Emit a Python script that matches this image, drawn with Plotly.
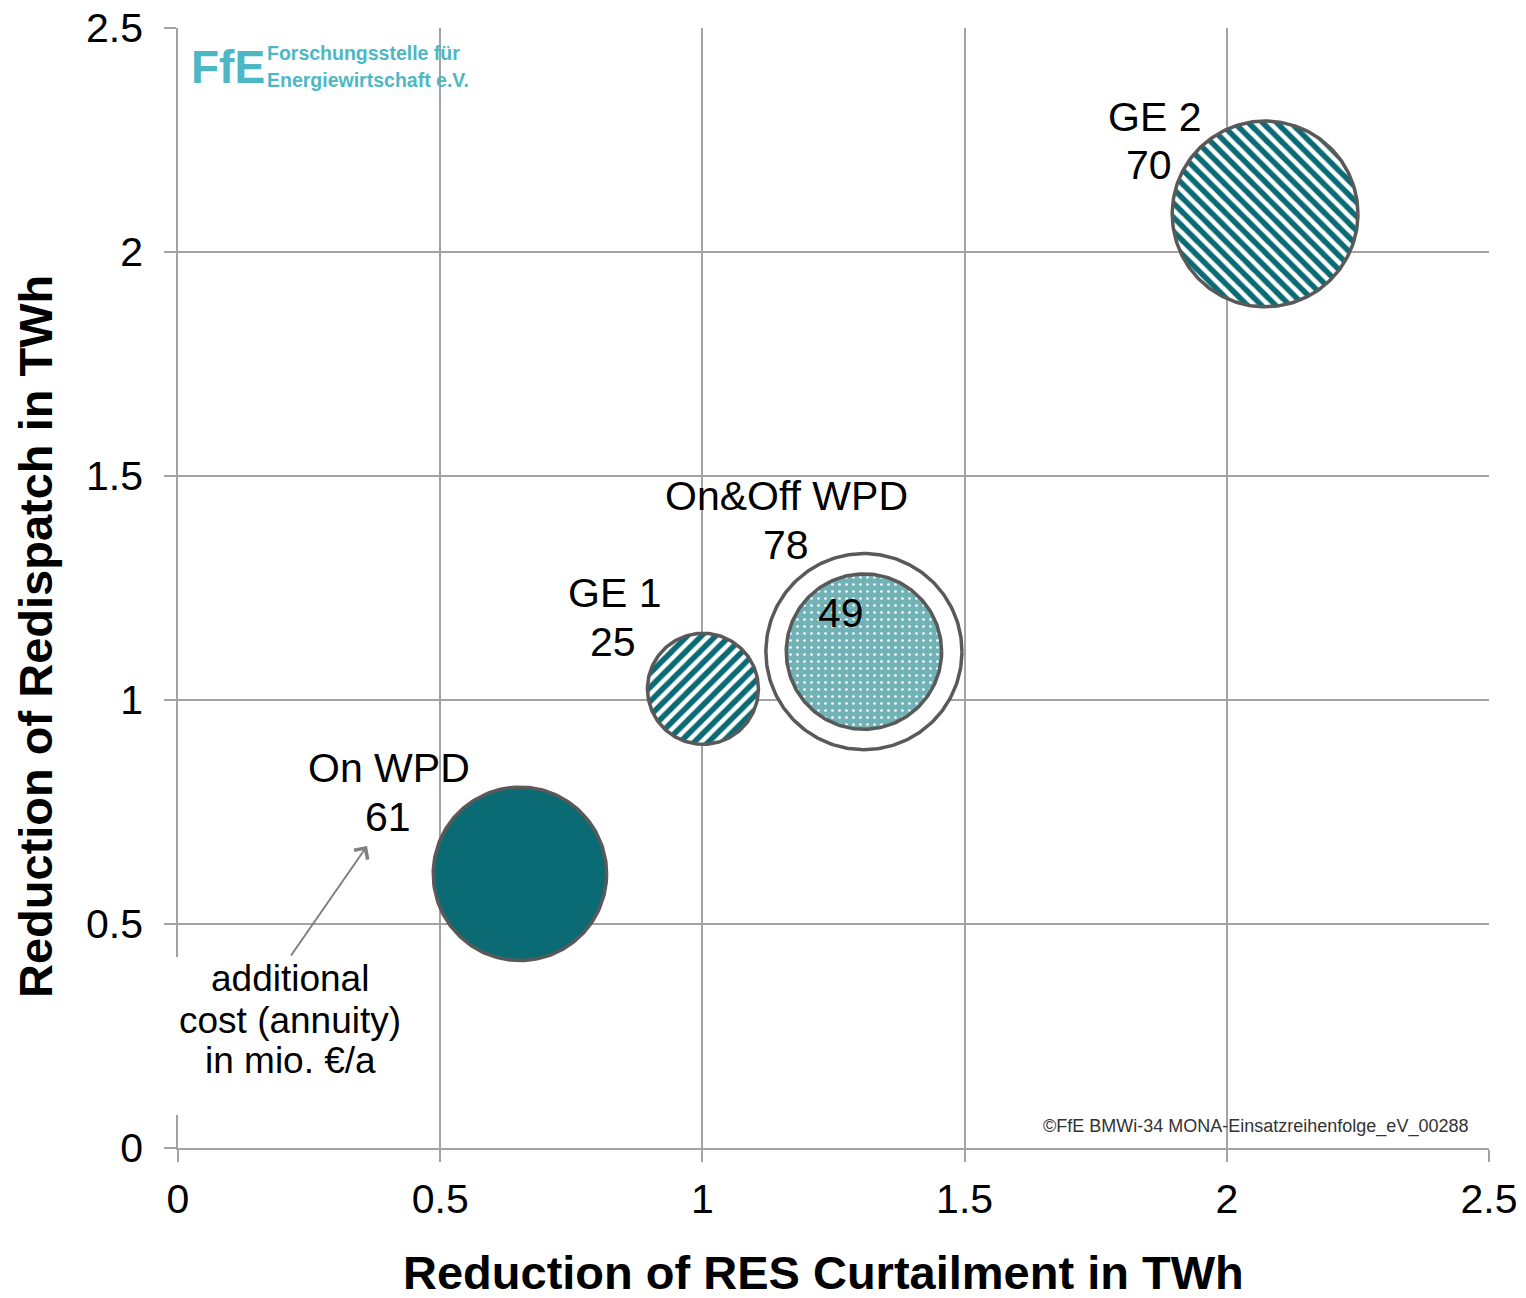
import numpy as np
import plotly.graph_objects as go

# ---- data ----
names = ["On WPD", "GE 1", "On&Off WPD", "On&Off WPD inner", "GE 2"]
res_curtailment = [0.652, 1.001, 1.308, 1.308, 2.073]   # x, TWh
redispatch = [0.612, 1.025, 1.108, 1.108, 2.085]        # y, TWh
cost = [61, 25, 78, 49, 70]                             # mio. €/a
label_names = ["On WPD", "GE 1", "On&Off WPD", "", "GE 2"]
tick_vals = [0, 0.5, 1, 1.5, 2, 2.5]
tick_text = ["0", "0.5", "1", "1.5", "2", "2.5"]

# ---- layout geometry (screen pixels; page body adds 8px offset) ----
W, H = 1526, 1298
OFF = 8
PL, PR, PT, PB = 178, 1489, 28, 1148          # plot area on screen
ML, MR, MT, MB = PL - OFF, W - (PR - OFF), PT - OFF, H - (PB - OFF)
PW, PH = PR - PL, PB - PT
XR, YR = 2.5, 2.5
pxx, pxy = PW / XR, PH / YR
K = 11.1  # radius px per sqrt(cost)


def px(sx):
    return (sx - PL) / PW


def py(sy):
    return (PB - sy) / PH


# label placement (screen px): name line, value line
name_pos = [(389, 768), (614, 593), (786, 496), None, (1154, 117)]
value_pos = [(388, 817), (613, 642), (786, 545), (841, 613), (1149, 165)]

TEAL = "#0B6B75"
EDGE = "#595959"
FONT = "Liberation Sans, Arial, sans-serif"

styles = [
    dict(fillcolor=TEAL, pattern=None),
    dict(fillcolor="white", pattern=dict(shape="/", fgcolor=TEAL, bgcolor="white", size=10,
                                         solidity=0.55, fgopacity=1)),
    dict(fillcolor="white", pattern=None),
    dict(fillcolor="#74B4B7", pattern=dict(shape=".", fgcolor="white", bgcolor="#70B2B5", size=7,
                                           solidity=0.12, fgopacity=1)),
    dict(fillcolor="white", pattern=dict(shape="\\", fgcolor=TEAL, bgcolor="white", size=10,
                                         solidity=0.55, fgopacity=1)),
]

fig = go.Figure()
t = np.linspace(0, 2 * np.pi, 241)
for i in range(len(names)):
    r = K * np.sqrt(cost[i])
    xs = res_curtailment[i] + r / pxx * np.cos(t)
    ys = redispatch[i] + r / pxy * np.sin(t)
    st = styles[i]
    kw = dict(x=xs, y=ys, mode="lines", fill="toself", fillcolor=st["fillcolor"],
              line=dict(color=EDGE, width=3.5), name=names[i], showlegend=False,
              hoverinfo="skip")
    if st["pattern"]:
        kw["fillpattern"] = st["pattern"]
    fig.add_trace(go.Scatter(**kw))

annotations = []
for i in range(len(names)):
    if name_pos[i] is not None:
        annotations.append(dict(x=px(name_pos[i][0]), y=py(name_pos[i][1]), xref="paper", yref="paper",
                                text=label_names[i], showarrow=False, xanchor="center", yanchor="middle",
                                font=dict(size=41, color="black", family=FONT)))
    annotations.append(dict(x=px(value_pos[i][0]), y=py(value_pos[i][1]), xref="paper", yref="paper",
                            text=str(cost[i]), showarrow=False, xanchor="center", yanchor="middle",
                            font=dict(size=41, color="black", family=FONT)))

# arrow pointing to cost label
annotations.append(dict(x=px(367), y=py(846), ax=290 - 367, ay=957 - 846, xref="paper", yref="paper",
                        axref="pixel", ayref="pixel", text="", showarrow=True, arrowhead=4,
                        arrowsize=1.6, arrowwidth=2, arrowcolor="#808080"))
for line, sy in zip(["additional", "cost (annuity)", "in mio. €/a"], [978, 1020, 1060]):
    annotations.append(dict(x=px(290), y=py(sy), xref="paper", yref="paper", text=line,
                            showarrow=False, xanchor="center", yanchor="middle",
                            font=dict(size=37, color="black", family=FONT)))
# copyright
annotations.append(dict(x=px(1470), y=py(1126), xref="paper", yref="paper",
                        text="©FfE BMWi-34 MONA-Einsatzreihenfolge_eV_00288", showarrow=False,
                        xanchor="right", yanchor="middle",
                        font=dict(size=18, color="#333333", family=FONT)))
# logo
LOGO = "#4DB8C4"
annotations.append(dict(x=px(189), y=py(67), xref="paper", yref="paper",
                        text="<b>FfE</b>", showarrow=False, xanchor="left", yanchor="middle",
                        font=dict(size=46, color=LOGO, family=FONT)))
for line, sy in zip(["<b>Forschungsstelle für</b>", "<b>Energiewirtschaft e.V.</b>"], [53, 80]):
    annotations.append(dict(x=px(265), y=py(sy), xref="paper", yref="paper", text=line,
                            showarrow=False, xanchor="left", yanchor="middle",
                            font=dict(size=19.5, color=LOGO, family=FONT)))
# axis titles
annotations.append(dict(x=px(823), y=py(1272), xref="paper", yref="paper",
                        text="<b>Reduction of RES Curtailment in TWh</b>", showarrow=False,
                        xanchor="center", yanchor="middle",
                        font=dict(size=47, color="black", family=FONT)))
annotations.append(dict(x=px(35), y=py(637), xref="paper", yref="paper",
                        text="<b>Reduction of Redispatch in TWh</b>", showarrow=False, textangle=-90,
                        xanchor="center", yanchor="middle",
                        font=dict(size=47, color="black", family=FONT)))

# white box behind the cost note (hides the axis line there)
shapes = [dict(type="rect", xref="paper", yref="paper", x0=px(171), x1=px(405), y0=py(1115), y1=py(957),
               fillcolor="white", line=dict(width=0), layer="above")]

axis_common = dict(range=[0, 2.5], tickvals=tick_vals, ticktext=tick_text, showgrid=True,
                   gridcolor="#A3A3A3", gridwidth=1.5, zeroline=False, showline=True,
                   linecolor="#A3A3A3", linewidth=1.5, ticks="outside", ticklen=12,
                   tickcolor="#A3A3A3", tickwidth=1.5, ticklabeloverflow="allow",
                   automargin=False,
                   tickfont=dict(size=41, color="black", family=FONT))

fig.update_layout(
    width=W, height=H,
    margin=dict(l=ML, r=MR, t=MT, b=MB, autoexpand=False),
    paper_bgcolor="white", plot_bgcolor="white",
    xaxis=dict(**axis_common, ticklabelstandoff=2),
    yaxis=dict(**axis_common, ticklabelstandoff=13),
    annotations=annotations,
    shapes=shapes,
    showlegend=False,
)

fig.write_html("out.html")
